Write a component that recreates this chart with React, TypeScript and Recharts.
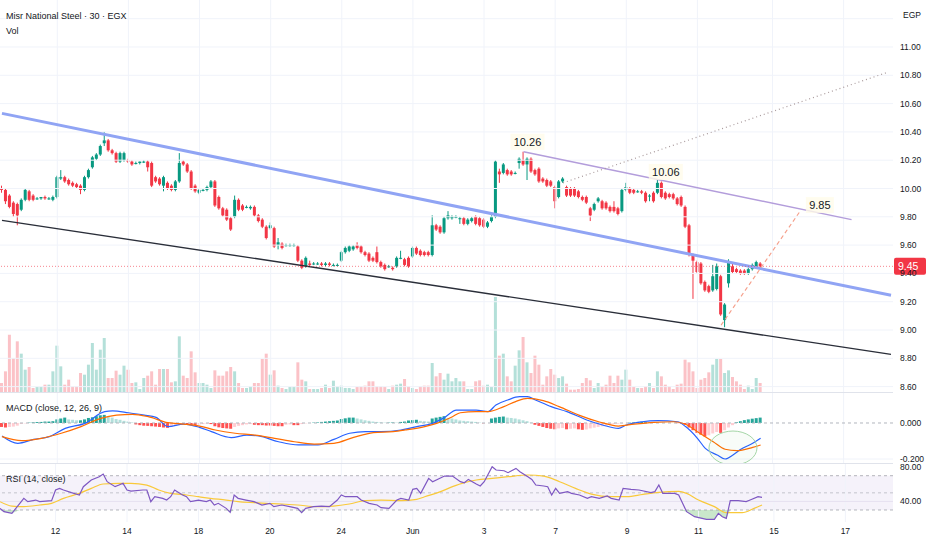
import {
  Area,
  Bar,
  Cell,
  ComposedChart,
  Line,
  ReferenceArea,
  ReferenceDot,
  ReferenceLine,
  XAxis,
  YAxis,
} from "recharts";

const UP = "#089981";
const DOWN = "#f23645";
const INK = "#131722";
const GRID = "#f0f3fa";
const FONT = "'Liberation Sans', Arial, sans-serif";

// 30 min bars: [open, high, low, close]
const CANDLES: [number, number, number, number][] = [
  [10.0, 10.02, 9.97, 9.99], [9.99, 10.0, 9.89, 9.91], [9.95, 9.96, 9.86, 9.87], [9.9, 9.91, 9.8, 9.82], [9.89, 9.9, 9.74, 9.81],
  [9.85, 9.93, 9.84, 9.92], [9.92, 10.0, 9.91, 9.99], [9.98, 9.99, 9.91, 9.92], [9.95, 9.96, 9.91, 9.92], [9.93, 9.94, 9.92, 9.93],
  [9.93, 9.94, 9.92, 9.94], [9.94, 9.95, 9.92, 9.93], [9.93, 9.94, 9.92, 9.93], [9.92, 9.95, 9.91, 9.94], [9.94, 10.09, 9.93, 10.08],
  [10.07, 10.13, 10.06, 10.08], [10.08, 10.09, 10.04, 10.05], [10.06, 10.07, 10.02, 10.03], [10.04, 10.05, 10.01, 10.02], [10.03, 10.04, 10.0, 10.01],
  [10.02, 10.03, 9.96, 9.99], [9.99, 10.09, 9.98, 10.08], [10.08, 10.14, 10.07, 10.13], [10.15, 10.23, 10.14, 10.22], [10.21, 10.25, 10.2, 10.24],
  [10.24, 10.31, 10.23, 10.3], [10.32, 10.4, 10.3, 10.34], [10.34, 10.35, 10.26, 10.27], [10.27, 10.28, 10.24, 10.25], [10.25, 10.26, 10.18, 10.19],
  [10.19, 10.26, 10.18, 10.25], [10.2, 10.26, 10.19, 10.25], [10.2, 10.21, 10.18, 10.19], [10.19, 10.2, 10.16, 10.17], [10.18, 10.19, 10.17, 10.18],
  [10.18, 10.19, 10.17, 10.19], [10.19, 10.2, 10.18, 10.19], [10.19, 10.2, 10.12, 10.15], [10.18, 10.19, 10.01, 10.02], [10.08, 10.09, 10.04, 10.05],
  [10.07, 10.08, 10.02, 10.03], [10.02, 10.09, 9.98, 10.08], [10.04, 10.05, 9.99, 10.0], [10.02, 10.03, 9.98, 9.99], [9.99, 10.06, 9.98, 10.05],
  [10.05, 10.25, 10.04, 10.18], [10.19, 10.2, 10.16, 10.17], [10.17, 10.18, 10.11, 10.12], [10.12, 10.13, 9.99, 10.0], [10.02, 10.03, 9.97, 9.98],
  [9.97, 10.0, 9.96, 9.99], [9.99, 10.0, 9.98, 9.99], [9.99, 10.02, 9.98, 10.01], [10.01, 10.06, 10.0, 10.05], [10.05, 10.06, 9.87, 9.88],
  [9.94, 9.95, 9.85, 9.86], [9.86, 9.87, 9.8, 9.81], [9.85, 9.86, 9.77, 9.78], [9.79, 9.8, 9.7, 9.71], [9.8, 9.95, 9.79, 9.92],
  [9.92, 9.93, 9.84, 9.85], [9.88, 9.89, 9.84, 9.85], [9.87, 9.88, 9.86, 9.87], [9.86, 9.88, 9.85, 9.87], [9.87, 9.88, 9.8, 9.81],
  [9.81, 9.82, 9.76, 9.77], [9.78, 9.79, 9.72, 9.73], [9.73, 9.74, 9.64, 9.65], [9.72, 9.76, 9.71, 9.74], [9.72, 9.73, 9.58, 9.59],
  [9.6, 9.65, 9.57, 9.62], [9.61, 9.62, 9.57, 9.58], [9.6, 9.61, 9.59, 9.6], [9.6, 9.61, 9.59, 9.6], [9.6, 9.61, 9.59, 9.6],
  [9.59, 9.6, 9.48, 9.49], [9.49, 9.5, 9.43, 9.44], [9.45, 9.52, 9.44, 9.51], [9.47, 9.49, 9.45, 9.46], [9.47, 9.48, 9.46, 9.47],
  [9.47, 9.48, 9.46, 9.47], [9.47, 9.48, 9.45, 9.46], [9.46, 9.48, 9.45, 9.47], [9.47, 9.48, 9.45, 9.46], [9.46, 9.47, 9.45, 9.46],
  [9.46, 9.47, 9.45, 9.46], [9.49, 9.56, 9.48, 9.55], [9.55, 9.59, 9.54, 9.58], [9.56, 9.6, 9.55, 9.59], [9.57, 9.6, 9.56, 9.59],
  [9.6, 9.62, 9.57, 9.58], [9.59, 9.6, 9.54, 9.55], [9.55, 9.56, 9.52, 9.53], [9.54, 9.55, 9.48, 9.49], [9.51, 9.52, 9.48, 9.49],
  [9.55, 9.59, 9.47, 9.48], [9.48, 9.49, 9.44, 9.45], [9.46, 9.47, 9.42, 9.43], [9.45, 9.46, 9.44, 9.45], [9.44, 9.45, 9.42, 9.43],
  [9.45, 9.52, 9.44, 9.51], [9.51, 9.56, 9.5, 9.51], [9.5, 9.51, 9.45, 9.46], [9.51, 9.52, 9.44, 9.45], [9.52, 9.59, 9.51, 9.58],
  [9.58, 9.59, 9.53, 9.54], [9.56, 9.57, 9.52, 9.53], [9.55, 9.56, 9.52, 9.53], [9.55, 9.56, 9.52, 9.53], [9.53, 9.81, 9.52, 9.74],
  [9.74, 9.75, 9.7, 9.71], [9.73, 9.74, 9.68, 9.69], [9.69, 9.8, 9.68, 9.79], [9.79, 9.84, 9.78, 9.81], [9.79, 9.81, 9.78, 9.8],
  [9.8, 9.81, 9.79, 9.8], [9.79, 9.8, 9.75, 9.79], [9.79, 9.8, 9.74, 9.75], [9.75, 9.79, 9.74, 9.78], [9.77, 9.8, 9.76, 9.79],
  [9.8, 9.81, 9.74, 9.75], [9.79, 9.8, 9.73, 9.74], [9.78, 9.79, 9.72, 9.73], [9.73, 9.77, 9.72, 9.76], [9.77, 9.81, 9.76, 9.8],
  [9.8, 10.2, 9.79, 10.19], [10.12, 10.14, 10.04, 10.1], [10.11, 10.18, 10.1, 10.17], [10.13, 10.14, 10.09, 10.1], [10.12, 10.13, 10.09, 10.1],
  [10.11, 10.12, 10.1, 10.11], [10.18, 10.22, 10.14, 10.21], [10.2, 10.26, 10.16, 10.17], [10.17, 10.22, 10.06, 10.21], [10.21, 10.22, 10.11, 10.12],
  [10.13, 10.14, 10.09, 10.1], [10.14, 10.15, 10.04, 10.05], [10.07, 10.08, 10.04, 10.05], [10.06, 10.07, 10.01, 10.02], [10.05, 10.06, 10.01, 10.02],
  [10.01, 10.02, 9.86, 9.91], [9.94, 10.06, 9.93, 10.05], [10.05, 10.08, 10.04, 10.07], [10.01, 10.02, 9.94, 9.95], [10.0, 10.01, 9.94, 9.95],
  [10.0, 10.01, 9.94, 9.95], [9.98, 9.99, 9.93, 9.94], [9.94, 9.95, 9.91, 9.92], [9.94, 9.95, 9.89, 9.9], [9.86, 9.87, 9.77, 9.81],
  [9.85, 9.9, 9.84, 9.89], [9.91, 9.94, 9.9, 9.93], [9.91, 9.92, 9.85, 9.86], [9.9, 9.91, 9.85, 9.86], [9.87, 9.88, 9.83, 9.84],
  [9.87, 9.91, 9.83, 9.84], [9.86, 9.87, 9.81, 9.82], [9.84, 10.0, 9.83, 9.99], [9.99, 10.04, 9.98, 10.01], [10.0, 10.01, 9.96, 9.97],
  [9.99, 10.0, 9.96, 9.97], [9.98, 9.99, 9.97, 9.98], [9.98, 9.99, 9.96, 9.97], [9.97, 9.98, 9.9, 9.91], [9.95, 9.96, 9.91, 9.95],
  [9.97, 9.98, 9.9, 9.91], [9.97, 10.06, 9.96, 10.04], [10.04, 10.05, 9.93, 9.94], [9.97, 9.98, 9.92, 9.93], [9.96, 9.97, 9.93, 9.94],
  [9.96, 9.97, 9.92, 9.93], [9.93, 9.94, 9.88, 9.89], [9.94, 9.95, 9.87, 9.88], [9.87, 9.88, 9.72, 9.73], [9.74, 9.75, 9.52, 9.53],
  [9.53, 9.54, 9.22, 9.49], [9.48, 9.49, 9.4, 9.41], [9.47, 9.48, 9.32, 9.33], [9.34, 9.35, 9.27, 9.28], [9.31, 9.32, 9.26, 9.27],
  [9.28, 9.46, 9.27, 9.38], [9.29, 9.47, 9.28, 9.45], [9.38, 9.39, 9.1, 9.11], [9.07, 9.19, 9.02, 9.18], [9.33, 9.5, 9.3, 9.48],
  [9.45, 9.47, 9.4, 9.41], [9.43, 9.44, 9.4, 9.41], [9.42, 9.43, 9.39, 9.4], [9.42, 9.43, 9.39, 9.4], [9.4, 9.44, 9.39, 9.43],
  [9.43, 9.47, 9.42, 9.46], [9.45, 9.49, 9.44, 9.48], [9.47, 9.48, 9.44, 9.45],
];

const VOLUME = [
  27, 62, 172, 102, 152, 115, 67, 75, 12, 15, 15, 22, 22, 62, 139, 77, 22, 37, 17, 17,
  57, 52, 82, 147, 67, 127, 162, 42, 42, 64, 52, 79, 67, 27, 29, 9, 42, 49, 62, 22,
  69, 69, 69, 29, 32, 167, 49, 42, 122, 59, 27, 27, 22, 12, 65, 49, 49, 62, 75, 62,
  27, 12, 12, 17, 27, 27, 99, 115, 52, 65, 19, 12, 9, 15, 15, 89, 37, 32, 9, 9,
  9, 12, 22, 12, 34, 17, 19, 12, 12, 9, 15, 17, 19, 32, 32, 17, 17, 15, 9, 19,
  22, 25, 39, 17, 12, 9, 17, 19, 19, 87, 47, 57, 37, 55, 32, 42, 32, 32, 9, 9,
  32, 35, 19, 22, 15, 285, 109, 115, 47, 32, 79, 125, 165, 89, 57, 109, 82, 22, 47, 69,
  52, 42, 47, 25, 7, 7, 9, 27, 42, 35, 12, 27, 15, 22, 49, 27, 49, 37, 67, 37,
  15, 12, 12, 17, 27, 12, 62, 47, 22, 17, 9, 22, 25, 97, 89, 62, 12, 37, 42, 59,
  82, 99, 99, 57, 65, 45, 32, 22, 9, 19, 9, 42, 27,
];

const MACD_HIST = [
  -0.022, -0.025, -0.022, -0.02, -0.015, -0.005, -0.002, 0.002, 0.004, 0.005,
  0.006, 0.008, 0.008, 0.01, 0.02, 0.025, 0.03, 0.02, 0.018, 0.015,
  0.015, 0.02, 0.028, 0.032, 0.038, 0.043, 0.045, 0.035, 0.03, 0.022,
  0.018, 0.012, 0.008, 0.003, -0.008, -0.012, -0.015, -0.016, -0.018, -0.02,
  -0.022, -0.025, -0.027, -0.02, -0.015, -0.01, -0.005, -0.01, -0.012, -0.012,
  -0.01, -0.006, -0.004, -0.006, -0.018, -0.024, -0.028, -0.03, -0.032, -0.022,
  -0.016, -0.012, -0.008, -0.006, -0.01, -0.012, -0.012, -0.014, -0.014, -0.016,
  -0.018, -0.018, -0.01, -0.008, -0.012, -0.012, -0.006, -0.002, 0, 0.002,
  0.003, 0.006, 0.008, 0.01, 0.012, 0.014, 0.022, 0.026, 0.03, 0.03,
  0.025, 0.02, 0.015, 0.012, 0.008, 0.006, 0.004, 0.002, 0.002, 0.003,
  0.002, 0.006, 0.008, 0.014, 0.016, 0.018, 0.012, 0.01, 0.008, 0.025,
  0.03, 0.034, 0.038, 0.028, 0.025, 0.02, 0.014, 0.012, 0.01, 0.008,
  0.006, 0.002, -0.002, 0, 0.025, 0.03, 0.034, 0.036, 0.03, 0.028,
  0.025, 0.02, 0.015, 0.01, 0.002, -0.01, -0.016, -0.022, -0.028, -0.032,
  -0.035, -0.03, -0.028, -0.035, -0.032, -0.03, -0.035, -0.038, -0.036, -0.03,
  -0.026, -0.022, -0.018, -0.014, -0.01, -0.006, -0.004, -0.002, 0, 0.002,
  0.004, 0.006, 0.006, 0.006, 0.005, 0.004, 0.003, 0.002, 0.001, 0,
  0, -0.001, -0.002, -0.01, -0.025, -0.04, -0.055, -0.065, -0.075, -0.068,
  -0.058, -0.05, -0.055, -0.04, -0.025, -0.012, 0.004, 0.01, 0.016, 0.02,
  0.024, 0.027, 0.03,
];

// [bar index, value]
const MACD_LINE: [number, number][] = [
  [0, -0.072], [4, -0.113], [8, -0.091], [12, -0.076], [16, -0.03], [21, -0.002], [26, 0.063], [28, 0.067],
  [32, 0.057], [36, 0.044], [39, 0.031], [42, -0.02], [46, -0.006], [50, -0.024], [53, -0.048], [58, -0.081],
  [62, -0.067], [65, -0.072], [70, -0.104], [75, -0.122], [80, -0.122], [84, -0.091], [88, -0.057], [92, -0.048],
  [96, -0.048], [101, -0.039], [105, -0.02], [109, -0.002], [112, 0.031], [115, 0.072], [120, 0.072], [123, 0.063],
  [125, 0.1], [128, 0.128], [131, 0.146], [133, 0.146], [135, 0.128], [139, 0.091], [143, 0.063], [148, 0.017],
  [152, -0.011], [156, -0.03], [158, -0.011], [162, 0.007], [166, 0.013], [171, 0.007], [173, -0.02], [176, -0.085],
  [178, -0.141], [181, -0.178], [183, -0.2], [185, -0.178], [187, -0.146], [190, -0.113], [192, -0.085],
];

const SIGNAL_LINE: [number, number][] = [
  [0, -0.076], [5, -0.098], [10, -0.085], [15, -0.057], [20, -0.02], [25, 0.026], [29, 0.044], [33, 0.048],
  [37, 0.035], [42, 0.002], [46, -0.006], [50, -0.017], [54, -0.039], [59, -0.057], [64, -0.067], [69, -0.085],
  [74, -0.104], [79, -0.117], [84, -0.113], [89, -0.08], [94, -0.054], [99, -0.048], [102, -0.039], [107, -0.02],
  [110, -0.002], [114, 0.035], [116, 0.057], [120, 0.063], [123, 0.063], [127, 0.091], [130, 0.119], [133, 0.137],
  [137, 0.124], [141, 0.091], [146, 0.044], [151, 0.007], [156, -0.017], [160, -0.006], [165, 0.004], [170, 0.007],
  [173, -0.007], [176, -0.048], [180, -0.104], [183, -0.146], [186, -0.154], [190, -0.135], [192, -0.122],
];

const RSI_LINE: [number, number][] = [
  [0, 31.9], [1, 28.0], [3, 26.1], [5, 37.8], [6, 43.6], [7, 39.7], [9, 41.6], [10, 39.7], [13, 40.9], [14, 53.3],
  [15, 55.2], [16, 53.3], [18, 50.2], [20, 47.5], [21, 57.2], [23, 64.9], [25, 68.8], [26, 71.9], [27, 63.0], [29, 57.2],
  [30, 59.1], [31, 61.1], [32, 53.3], [33, 52.1], [36, 53.3], [37, 53.3], [38, 39.7], [39, 45.5], [41, 43.6], [42, 41.6],
  [43, 45.5], [44, 53.3], [46, 47.5], [47, 45.5], [48, 39.7], [50, 41.6], [52, 39.7], [53, 41.6], [54, 35.8], [55, 37.8],
  [57, 31.9], [58, 27.3], [59, 47.5], [60, 43.6], [62, 41.6], [64, 39.7], [66, 35.8], [68, 37.8], [69, 33.9], [71, 35.8],
  [73, 33.9], [75, 31.9], [76, 26.9], [77, 31.9], [79, 33.9], [81, 34.6], [83, 33.9], [85, 41.6], [86, 47.5], [87, 45.5],
  [90, 45.5], [91, 41.6], [93, 37.8], [95, 35.8], [96, 32.7], [98, 31.9], [100, 41.6], [101, 43.6], [103, 41.6], [104, 54.1],
  [105, 55.2], [106, 49.4], [108, 66.9], [109, 63.0], [112, 69.6], [114, 69.6], [116, 63.0], [117, 61.8], [118, 65.7], [120, 60.3],
  [121, 58.0], [122, 63.0], [124, 80.5], [125, 76.6], [127, 75.8], [128, 73.5], [130, 78.5], [131, 74.7], [133, 68.8], [134, 65.7],
  [135, 59.1], [137, 58.0], [138, 57.2], [139, 47.5], [140, 55.2], [141, 49.4], [143, 51.4], [144, 49.4], [146, 47.5], [148, 43.6],
  [149, 45.5], [151, 43.6], [153, 46.3], [154, 43.6], [156, 41.6], [157, 55.2], [159, 54.1], [161, 53.3], [164, 50.2], [165, 51.4],
  [166, 59.1], [167, 49.4], [170, 49.4], [171, 47.5], [173, 28.0], [175, 22.2], [178, 19.1], [180, 19.1], [181, 26.1], [182, 22.2],
  [183, 20.3], [184, 40.9], [186, 40.9], [188, 39.7], [189, 41.6], [191, 45.5], [192, 44.7],
];

const RSI_SMA: [number, number][] = [
  [0, 39.7], [3, 34.6], [6, 33.9], [10, 35.8], [13, 37.8], [16, 43.6], [20, 49.4], [23, 55.2], [26, 60.3], [30, 61.1],
  [33, 61.1], [37, 59.1], [40, 53.3], [43, 49.4], [47, 47.5], [50, 45.5], [53, 43.6], [57, 41.6], [60, 39.7], [64, 38.5],
  [67, 37.8], [71, 37.0], [75, 35.8], [80, 33.9], [84, 34.6], [88, 37.0], [92, 40.9], [96, 41.6], [101, 40.9], [105, 42.4],
  [107, 45.5], [111, 51.4], [114, 57.2], [117, 62.0], [120, 65.0], [124, 66.9], [128, 68.8], [133, 70.8], [137, 69.6], [141, 63.0],
  [145, 55.2], [149, 48.6], [154, 45.5], [158, 45.5], [162, 48.2], [166, 50.6], [171, 51.7], [173, 49.4], [176, 41.6], [180, 33.9],
  [183, 26.9], [187, 26.9], [190, 31.9], [192, 35.8],
];

const PRICE_TICKS = [8.6, 8.8, 9.0, 9.2, 9.4, 9.6, 9.8, 10.0, 10.2, 10.4, 10.6, 10.8, 11.0];
const PRICE_GRID = [...PRICE_TICKS, 11.2];
const DATE_TICKS = [14, 32, 50, 68, 86, 104, 122, 140, 158, 176, 195, 213];
const DATE_LABELS = ["12", "14", "18", "20", "24", "Jun", "3", "7", "9", "11", "15", "17"];
const LAST_PRICE = 9.45;

// drawings: [bar index, price]
const CHANNEL_TOP: [number, number][] = [[0, 10.531], [225, 9.245]];
const CHANNEL_BOTTOM: [number, number][] = [[0, 9.775], [225, 8.828]];
const RESISTANCE: [number, number][] = [[132, 10.26], [215, 9.78]];
const TARGET_DOTTED: [number, number][] = [[142, 10.04], [224, 10.82]];
const TARGET_DASHED: [number, number][] = [[182, 9.035], [202, 9.84]];
const CALLOUTS = [
  { x: 133, y: 10.33, text: "10.26" },
  { x: 168, y: 10.117, text: "10.06" },
  { x: 207, y: 9.883, text: "9.85" },
];

const SLOTS = 226;

type Row = {
  i: number;
  o?: number; h?: number; l?: number; c?: number;
  vol?: number; hist?: number; macd?: number; signal?: number;
  rsi?: number; rsiSma?: number; os?: [number, number];
};

const rows: Row[] = Array.from({ length: SLOTS }, (_, i) => ({ i }));
CANDLES.forEach(([o, h, l, c], i) => Object.assign(rows[i], { o, h, l, c, vol: VOLUME[i], hist: MACD_HIST[i] }));
MACD_LINE.forEach(([i, v]) => (rows[i].macd = v));
SIGNAL_LINE.forEach(([i, v]) => (rows[i].signal = v));
RSI_LINE.forEach(([i, v]) => {
  rows[i].rsi = v;
  rows[i].os = [Math.min(v, 30), 30];
});
RSI_SMA.forEach(([i, v]) => (rows[i].rsiSma = v));

const seg = (p: [number, number][]) => p.map(([x, y]) => ({ x, y }));

function histColor(i: number) {
  const v = MACD_HIST[i];
  const p = i > 0 ? MACD_HIST[i - 1] : v;
  if (v >= 0) return v >= p ? "#26a69a" : "#b2dfdb";
  return v <= p ? "#ff5252" : "#ffcdd2";
}

function Candle(props: any) {
  const { x, y, width, height, payload } = props;
  if (!payload || payload.o == null || !isFinite(y) || !isFinite(height)) return null;
  const { o, h, l, c } = payload;
  const top = Math.min(y, y + height);
  const span = Math.abs(height);
  const k = span / (h - l);
  const yo = top + (h - o) * k;
  const yc = top + (h - c) * k;
  const color = c >= o ? UP : DOWN;
  const cx = x + width / 2;
  return (
    <g>
      <line x1={cx} x2={cx} y1={top} y2={top + span} stroke={color} strokeWidth={1} />
      <rect x={x} y={Math.min(yo, yc)} width={width} height={Math.max(1, Math.abs(yo - yc))} fill={color} />
    </g>
  );
}

function PriceTag(props: any) {
  const vb = props.viewBox;
  if (!vb) return null;
  const x = vb.x + vb.width;
  return (
    <g>
      <rect x={x + 1} y={vb.y - 8.5} width={32} height={17} rx={2} fill={DOWN} />
      <text x={x + 5} y={vb.y + 4} fill="#fff" fontSize={10.5}>
        {LAST_PRICE.toFixed(2)}
      </text>
    </g>
  );
}

function Callout(props: any) {
  const vb = props.viewBox;
  if (!vb) return null;
  const cx = vb.x + vb.width / 2;
  const cy = vb.y + vb.height / 2;
  const w = props.text.length * 6 + 4;
  return (
    <g>
      <rect x={cx - w / 2} y={cy - 8} width={w} height={16} fill="#fffbea" fillOpacity={0.8} />
      <text x={cx} y={cy} textAnchor="middle" dominantBaseline="central" fontSize={11} fill={INK}>
        {props.text}
      </text>
    </g>
  );
}

const tickStyle = { fill: INK, fontSize: 8.5 };

function MainPane() {
  return (
    <ComposedChart width={932} height={392} data={rows} margin={{ top: 0, right: 0, bottom: 0, left: 0 }}>
      <XAxis dataKey="i" type="category" hide />
      <XAxis xAxisId="v" dataKey="i" type="category" hide />
      <YAxis
        yAxisId="p"
        orientation="right"
        width={39}
        domain={[8.562, 11.332]}
        allowDataOverflow
        ticks={PRICE_TICKS}
        interval={0}
        tickLine={false}
        axisLine={false}
        tickSize={0}
        tickMargin={7}
        tick={tickStyle}
        tickFormatter={(v: number) => v.toFixed(2)}
      />
      <YAxis yAxisId="v" hide domain={[0, 1176]} allowDataOverflow />
      {PRICE_GRID.map((p) => (
        <ReferenceLine key={"h" + p} yAxisId="p" y={p} stroke={GRID} />
      ))}
      {DATE_TICKS.map((t) => (
        <ReferenceLine key={"v" + t} yAxisId="p" x={t} stroke={GRID} />
      ))}
      <Bar xAxisId="v" yAxisId="v" dataKey="vol" barSize={3} isAnimationActive={false}>
        {rows.map((r) => (
          <Cell key={r.i} fill={(r.c ?? 0) >= (r.o ?? 0) ? "rgba(8,153,129,0.3)" : "rgba(242,54,69,0.3)"} />
        ))}
      </Bar>
      <ReferenceLine yAxisId="p" segment={seg(CHANNEL_BOTTOM)} stroke="#2a2e39" strokeWidth={1.4} />
      <ReferenceLine yAxisId="p" segment={seg(CHANNEL_TOP)} stroke="#90a4f4" strokeWidth={3} />
      <ReferenceLine yAxisId="p" segment={seg(RESISTANCE)} stroke="#b39ddb" strokeWidth={1.5} />
      <ReferenceLine yAxisId="p" segment={seg(TARGET_DOTTED)} stroke="#a8999b" strokeWidth={1.2} strokeDasharray="1 3" />
      <ReferenceLine yAxisId="p" segment={seg(TARGET_DASHED)} stroke="#f5a08c" strokeWidth={1.2} strokeDasharray="4 3" />
      <Bar
        yAxisId="p"
        dataKey={(d: Row) => (d.o == null ? null : [d.l, d.h])}
        barSize={3}
        shape={(p: any) => <Candle {...p} />}
        isAnimationActive={false}
      />
      <ReferenceLine
        yAxisId="p"
        y={LAST_PRICE}
        stroke={DOWN}
        strokeOpacity={0.6}
        strokeDasharray="1 2"
        label={<PriceTag />}
      />
      {CALLOUTS.map((c) => (
        <ReferenceDot
          key={c.text}
          yAxisId="p"
          x={c.x}
          y={c.y}
          r={1}
          fill="none"
          stroke="none"
          label={<Callout text={c.text} />}
        />
      ))}
    </ComposedChart>
  );
}

function MacdPane() {
  return (
    <ComposedChart width={932} height={71} data={rows} margin={{ top: 0, right: 0, bottom: 0, left: 0 }}>
      <XAxis dataKey="i" type="category" hide />
      <YAxis
        orientation="right"
        width={39}
        domain={[-0.2222, 0.1722]}
        allowDataOverflow
        ticks={[-0.2, 0]}
        interval={0}
        tickLine={false}
        axisLine={false}
        tickSize={0}
        tickMargin={7}
        tick={tickStyle}
        tickFormatter={(v: number) => v.toFixed(3)}
      />
      {DATE_TICKS.map((t) => (
        <ReferenceLine key={"v" + t} x={t} stroke={GRID} />
      ))}
      <ReferenceLine y={-0.2} stroke={GRID} />
      <ReferenceLine y={0} stroke="#b2b5be" strokeDasharray="3 3" />
      <Bar dataKey="hist" barSize={3} isAnimationActive={false}>
        {rows.map((r) => (
          <Cell key={r.i} fill={r.hist == null ? "none" : histColor(r.i)} />
        ))}
      </Bar>
      <Line dataKey="macd" type="monotone" connectNulls dot={false} stroke="#2962ff" strokeWidth={1.2} isAnimationActive={false} />
      <Line dataKey="signal" type="monotone" connectNulls dot={false} stroke="#ff6d00" strokeWidth={1.2} isAnimationActive={false} />
      <ReferenceDot
        x={185}
        y={-0.139}
        r={20}
        shape={(p: any) => (
          <ellipse cx={p.cx} cy={p.cy} rx={24} ry={17} fill="rgba(76,175,80,0.04)" stroke="#a5d6a7" strokeWidth={1} />
        )}
      />
    </ComposedChart>
  );
}

function RsiPane() {
  return (
    <ComposedChart width={932} height={87} data={rows} margin={{ top: 0, right: 0, bottom: 0, left: 0 }}>
      <XAxis
        dataKey="i"
        type="category"
        ticks={DATE_TICKS}
        interval={0}
        height={28}
        tickLine={false}
        axisLine={false}
        tickSize={0}
        tickMargin={6}
        tick={tickStyle}
        tickFormatter={(v: number) => DATE_LABELS[DATE_TICKS.indexOf(v)] ?? ""}
      />
      <YAxis
        orientation="right"
        width={39}
        domain={[16, 84.8]}
        allowDataOverflow
        ticks={[40, 80]}
        interval={0}
        tickLine={false}
        axisLine={false}
        tickSize={0}
        tickMargin={7}
        tick={tickStyle}
        tickFormatter={(v: number) => v.toFixed(2)}
      />
      {DATE_TICKS.map((t) => (
        <ReferenceLine key={"v" + t} x={t} stroke={GRID} />
      ))}
      <ReferenceArea y1={30} y2={70} fill="#7e57c2" fillOpacity={0.08} stroke="none" />
      <ReferenceLine y={40} stroke="#e6e1f0" />
      <ReferenceLine y={70} stroke="#9598a1" strokeDasharray="3 3" strokeOpacity={0.7} />
      <ReferenceLine y={50} stroke="#9598a1" strokeDasharray="3 3" strokeOpacity={0.5} />
      <ReferenceLine y={30} stroke="#9598a1" strokeDasharray="3 3" strokeOpacity={0.7} />
      <Area dataKey="os" connectNulls stroke="none" fill="#66bb6a" fillOpacity={0.35} isAnimationActive={false} />
      <Line dataKey="rsiSma" type="monotone" connectNulls dot={false} stroke="#f9c93a" strokeWidth={1.2} isAnimationActive={false} />
      <Line dataKey="rsi" type="linear" connectNulls dot={false} stroke="#7e57c2" strokeWidth={1.2} isAnimationActive={false} />
    </ComposedChart>
  );
}

const label: React.CSSProperties = { position: "absolute", left: 6, fontSize: 9, lineHeight: "12px", color: INK, whiteSpace: "nowrap" };

export default function App() {
  return (
    <div
      style={{
        position: "absolute",
        left: 0,
        top: 0,
        width: 932,
        height: 550,
        background: "#fff",
        overflow: "hidden",
        fontFamily: FONT,
        color: INK,
      }}
    >
      <div style={{ position: "absolute", left: 0, top: 0 }}>
        <MainPane />
      </div>
      <div style={{ position: "absolute", left: 0, top: 392 }}>
        <MacdPane />
      </div>
      <div style={{ position: "absolute", left: 0, top: 463 }}>
        <RsiPane />
      </div>
      <div style={{ position: "absolute", left: 0, top: 392, width: 893, height: 1, background: "#e0e3eb" }} />
      <div style={{ position: "absolute", left: 0, top: 463, width: 893, height: 1, background: "#e0e3eb" }} />
      <div style={{ ...label, top: 10 }}>Misr National Steel · 30 · EGX</div>
      <div style={{ ...label, top: 25 }}>Vol</div>
      <div style={{ ...label, top: 402 }}>MACD (close, 12, 26, 9)</div>
      <div style={{ ...label, top: 473 }}>RSI (14, close)</div>
      <div style={{ ...label, left: 903, top: 9, fontSize: 8.5 }}>EGP</div>
    </div>
  );
}
